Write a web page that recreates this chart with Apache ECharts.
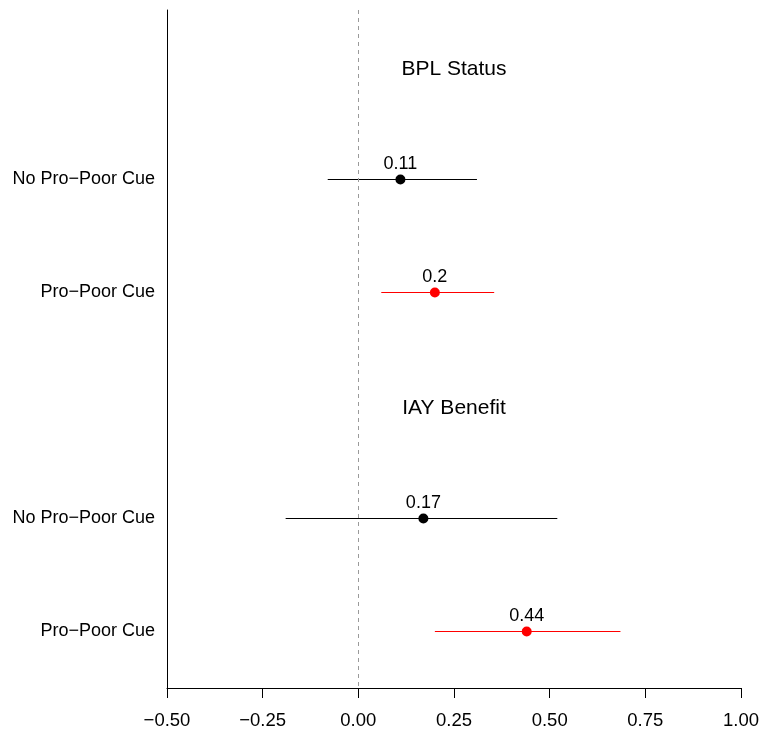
<!DOCTYPE html>
<html>
<head>
<meta charset="utf-8">
<script src="https://cdn.jsdelivr.net/npm/echarts@6/dist/echarts.min.js"></script>
<style>
  html, body { margin: 0; padding: 0; background: #fff; }
  #chart { width: 762px; height: 732px; }
</style>
</head>
<body>
<div id="chart"></div>
<script>
// Rows from top to bottom: section headings and treatment conditions
const rowLabels = ['BPL Status', 'No Pro\u2212Poor Cue', 'Pro\u2212Poor Cue',
                   'IAY Benefit', 'No Pro\u2212Poor Cue', 'Pro\u2212Poor Cue'];
const headingRows = [0, 3];
const headingText = ['BPL Status', 'IAY Benefit'];

// Estimates with confidence bounds, one entry per condition row
const estRows = [1, 2, 4, 5];
const estimates = [0.11, 0.2, 0.17, 0.44];
const lower = [-0.08, 0.06, -0.19, 0.20];
const upper = [0.31, 0.355, 0.52, 0.685];
const isCue = [false, true, false, true];

const xTicks = [-0.5, -0.25, 0, 0.25, 0.5, 0.75, 1.0];

const FONT = 'Liberation Sans, Arial, Helvetica, sans-serif';
const colorOf = cue => cue ? '#ff0000' : '#000000';

const fmtTick = v => {
  const s = Math.abs(v).toFixed(2);
  return v < 0 ? '\u2212' + s : s;
};

const chart = echarts.init(document.getElementById('chart'), null, { renderer: 'canvas' });

const intervalData = estRows.map((r, i) => [lower[i], upper[i], r, isCue[i] ? 1 : 0]);

const pointData = estRows.map((r, i) => ({
  value: [estimates[i], r],
  itemStyle: { color: colorOf(isCue[i]), opacity: 1 }
}));

chart.setOption({
  animation: false,
  backgroundColor: '#ffffff',
  grid: { left: 167, right: 17, top: 10, bottom: 44, containLabel: false },
  xAxis: {
    type: 'value',
    min: xTicks[0],
    max: xTicks[xTicks.length - 1],
    interval: 0.25,
    axisLine: { show: true, onZero: false, lineStyle: { color: '#000', width: 1 } },
    axisTick: { show: true, length: 10, lineStyle: { color: '#000', width: 1 } },
    axisLabel: {
      color: '#000', fontFamily: FONT, fontSize: 18.5, margin: 23,
      formatter: fmtTick
    },
    splitLine: { show: false }
  },
  yAxis: {
    type: 'category',
    inverse: true,
    data: rowLabels,
    boundaryGap: true,
    axisLine: { show: true, onZero: false, lineStyle: { color: '#000', width: 1 } },
    axisTick: { show: false },
    axisLabel: {
      color: '#000', fontFamily: FONT, fontSize: 18, margin: 12,
      formatter: (v, idx) => headingRows.includes(idx) ? '' : v
    },
    splitLine: { show: false }
  },
  series: [
    {
      // horizontal confidence interval segments
      type: 'custom',
      data: intervalData,
      renderItem: (params, api) => {
        const row = api.value(2);
        const a = api.coord([api.value(0), row]);
        const b = api.coord([api.value(1), row]);
        return {
          type: 'line',
          shape: { x1: a[0], y1: a[1], x2: b[0], y2: b[1] },
          style: { stroke: colorOf(api.value(3) === 1), lineWidth: 1 }
        };
      },
      z: 2
    },
    {
      // point estimates with value labels
      type: 'scatter',
      data: pointData,
      symbol: 'circle',
      symbolSize: 10,
      z: 3,
      itemStyle: { opacity: 1 },
      label: {
        show: true,
        position: 'top',
        distance: 1,
        color: '#000',
        opacity: 1,
        fontFamily: FONT,
        fontSize: 18,
        formatter: p => String(p.value[0])
      },
      markLine: {
        silent: true,
        symbol: 'none',
        label: { show: false },
        lineStyle: { color: '#9a9a9a', type: [4, 4], width: 1, opacity: 1 },
        data: [{ xAxis: 0 }]
      }
    },
    {
      // section headings placed in the middle of the panel
      type: 'scatter',
      data: headingRows.map((r, i) => ({ value: [0.25, r], name: headingText[i] })),
      symbolSize: 0,
      silent: true,
      itemStyle: { opacity: 1 },
      label: {
        show: true,
        position: 'inside',
        offset: [0, 3],
        color: '#000',
        opacity: 1,
        fontFamily: FONT,
        fontSize: 21,
        formatter: p => p.name
      }
    }
  ]
});
</script>
</body>
</html>
